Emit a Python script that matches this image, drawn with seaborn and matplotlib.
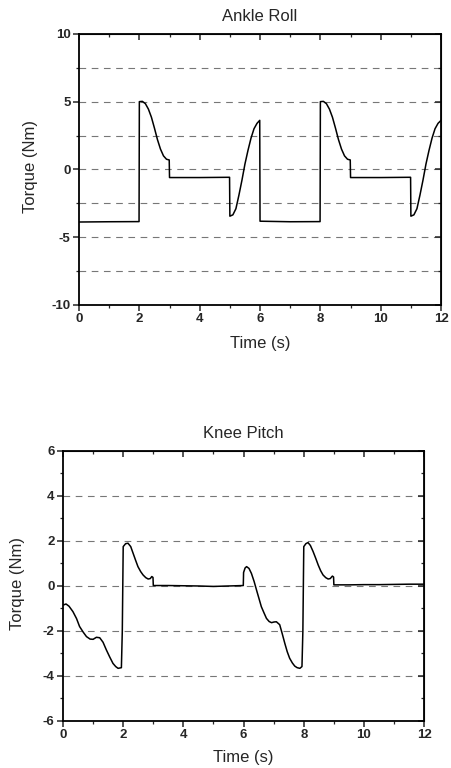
import pandas as pd
import matplotlib
matplotlib.use("Agg")
import matplotlib.pyplot as plt
import seaborn as sns
from matplotlib.ticker import MultipleLocator

# Ankle roll torque (Nm) vs time (s)
ankle_t = [0.0, 1.0, 1.99, 2.0, 2.1, 2.2, 2.3, 2.4, 2.5, 2.6, 2.7, 2.8, 2.9, 2.99,
           3.0, 4.0, 4.99, 5.0, 5.1, 5.2, 5.3, 5.4, 5.5, 5.6, 5.7, 5.8, 5.9, 5.99,
           6.0, 7.0, 7.99, 8.0, 8.1, 8.2, 8.3, 8.4, 8.5, 8.6, 8.7, 8.8, 8.9, 8.99,
           9.0, 10.0, 10.99, 11.0, 11.1, 11.2, 11.3, 11.4, 11.5, 11.6, 11.7, 11.8, 11.9, 12.0]
ankle_tq = [-3.88, -3.86, -3.85, 5.0, 5.02, 4.85, 4.45, 3.85, 3.05, 2.2, 1.5, 1.0, 0.75, 0.7,
            -0.6, -0.6, -0.58, -3.45, -3.35, -2.9, -1.9, -0.8, 0.4, 1.4, 2.3, 3.0, 3.4, 3.62,
            -3.82, -3.86, -3.85, 5.0, 5.02, 4.85, 4.45, 3.85, 3.05, 2.2, 1.5, 1.0, 0.75, 0.7,
            -0.6, -0.6, -0.58, -3.45, -3.35, -2.9, -1.9, -0.8, 0.4, 1.4, 2.3, 3.0, 3.4, 3.62]

# Knee pitch torque (Nm) vs time (s)
knee_t = [0.0, 0.1, 0.2, 0.33, 0.45, 0.55, 0.67, 0.78, 0.9, 1.0, 1.11, 1.22, 1.33, 1.44,
          1.55, 1.66, 1.75, 1.83, 1.94, 1.97, 2.0, 2.08, 2.16, 2.25, 2.33, 2.41, 2.49, 2.58,
          2.66, 2.75, 2.83, 2.9, 2.95, 2.99, 3.0, 3.5, 4.0, 4.5, 5.0, 5.5, 5.99,
          6.0, 6.05, 6.1, 6.18, 6.26, 6.35, 6.43, 6.51, 6.59, 6.68, 6.76, 6.85, 6.93, 7.01,
          7.09, 7.2, 7.28, 7.37, 7.45, 7.53, 7.62, 7.7, 7.78, 7.87, 7.94, 7.97, 8.0, 8.07,
          8.14, 8.22, 8.31, 8.4, 8.48, 8.56, 8.64, 8.73, 8.81, 8.88, 8.95, 8.99,
          9.0, 9.5, 10.0, 10.5, 11.0, 11.5, 12.0]
knee_tq = [-0.85, -0.8, -0.9, -1.14, -1.45, -1.8, -2.05, -2.25, -2.36, -2.37, -2.28, -2.3, -2.5, -2.84,
           -3.15, -3.44, -3.58, -3.66, -3.63, -2.0, 1.75, 1.88, 1.9, 1.75, 1.45, 1.15, 0.86, 0.64,
           0.49, 0.37, 0.31, 0.33, 0.42, 0.38, 0.02, 0.02, 0.01, 0.0, -0.02, 0.0, 0.02,
           0.6, 0.8, 0.86, 0.78, 0.56, 0.2, -0.18, -0.55, -0.92, -1.2, -1.44, -1.58, -1.63, -1.6,
           -1.59, -1.72, -2.1, -2.55, -2.92, -3.21, -3.42, -3.56, -3.63, -3.66, -3.58, -2.0, 1.75, 1.88,
           1.93, 1.8, 1.53, 1.22, 0.93, 0.68, 0.49, 0.37, 0.31, 0.33, 0.44, 0.4,
           0.05, 0.05, 0.06, 0.06, 0.07, 0.08, 0.08]

ankle_df = pd.DataFrame({"time": ankle_t, "torque": ankle_tq})
knee_df = pd.DataFrame({"time": knee_t, "torque": knee_tq})

sns.set_style("ticks")
plt.rcParams["font.family"] = ["Liberation Sans", "DejaVu Sans"]
plt.rcParams["axes.unicode_minus"] = False

fig = plt.figure(figsize=(4.52, 7.68), dpi=100)
ax1 = fig.add_axes([0.1748, 0.6029, 0.801, 0.353])
ax2 = fig.add_axes([0.1394, 0.0612, 0.799, 0.3516])


def style_axis(ax, df, title, ylim, ymajor, yminor, grid_vals, xlab_y, ylab_x):
    sns.lineplot(data=df, x="time", y="torque", ax=ax, color="black",
                 linewidth=1.1, estimator=None, sort=False)
    ax.set_xlim(0, 12)
    ax.set_ylim(*ylim)
    ax.xaxis.set_major_locator(MultipleLocator(2))
    ax.xaxis.set_minor_locator(MultipleLocator(1))
    ax.yaxis.set_major_locator(MultipleLocator(ymajor))
    ax.yaxis.set_minor_locator(MultipleLocator(yminor))
    for v in grid_vals:
        ax.axhline(v, color="#777777", linewidth=0.8, dashes=(6, 5), zorder=0)
    for s in ax.spines.values():
        s.set_linewidth(1.3)
        s.set_color("black")
    ax.tick_params(which="major", direction="out", length=4, width=1.1,
                   labelsize=9.5, pad=2)
    ax.tick_params(which="minor", direction="out", length=2.5, width=0.9)
    for lab in ax.get_xticklabels() + ax.get_yticklabels():
        lab.set_fontweight("bold")
    # inward ticks on top and right
    top = ax.secondary_xaxis("top")
    top.xaxis.set_major_locator(MultipleLocator(2))
    top.xaxis.set_minor_locator(MultipleLocator(1))
    top.tick_params(which="both", direction="in", labeltop=False)
    top.tick_params(which="major", length=4, width=1.1)
    top.tick_params(which="minor", length=2.5, width=0.9)
    right = ax.secondary_yaxis("right")
    right.yaxis.set_major_locator(MultipleLocator(ymajor))
    right.yaxis.set_minor_locator(MultipleLocator(yminor))
    right.tick_params(which="both", direction="in", labelright=False)
    right.tick_params(which="major", length=4, width=1.1)
    right.tick_params(which="minor", length=2.5, width=0.9)
    ax.set_title(title, fontsize=12, pad=9)
    ax.set_xlabel("Time (s)", fontsize=12)
    ax.set_ylabel("Torque (Nm)", fontsize=12)
    ax.xaxis.set_label_coords(0.5, xlab_y)
    ax.yaxis.set_label_coords(ylab_x, 0.51)


style_axis(ax1, ankle_df, "Ankle Roll", (-10, 10), 5, 2.5,
           [7.5, 5, 2.5, 0, -2.5, -5, -7.5], -0.115, -0.113)
style_axis(ax2, knee_df, "Knee Pitch", (-6, 6), 2, 1,
           [4, 2, 0, -2, -4], -0.108, -0.105)

fig.savefig("out.png", dpi=100, facecolor="white")
